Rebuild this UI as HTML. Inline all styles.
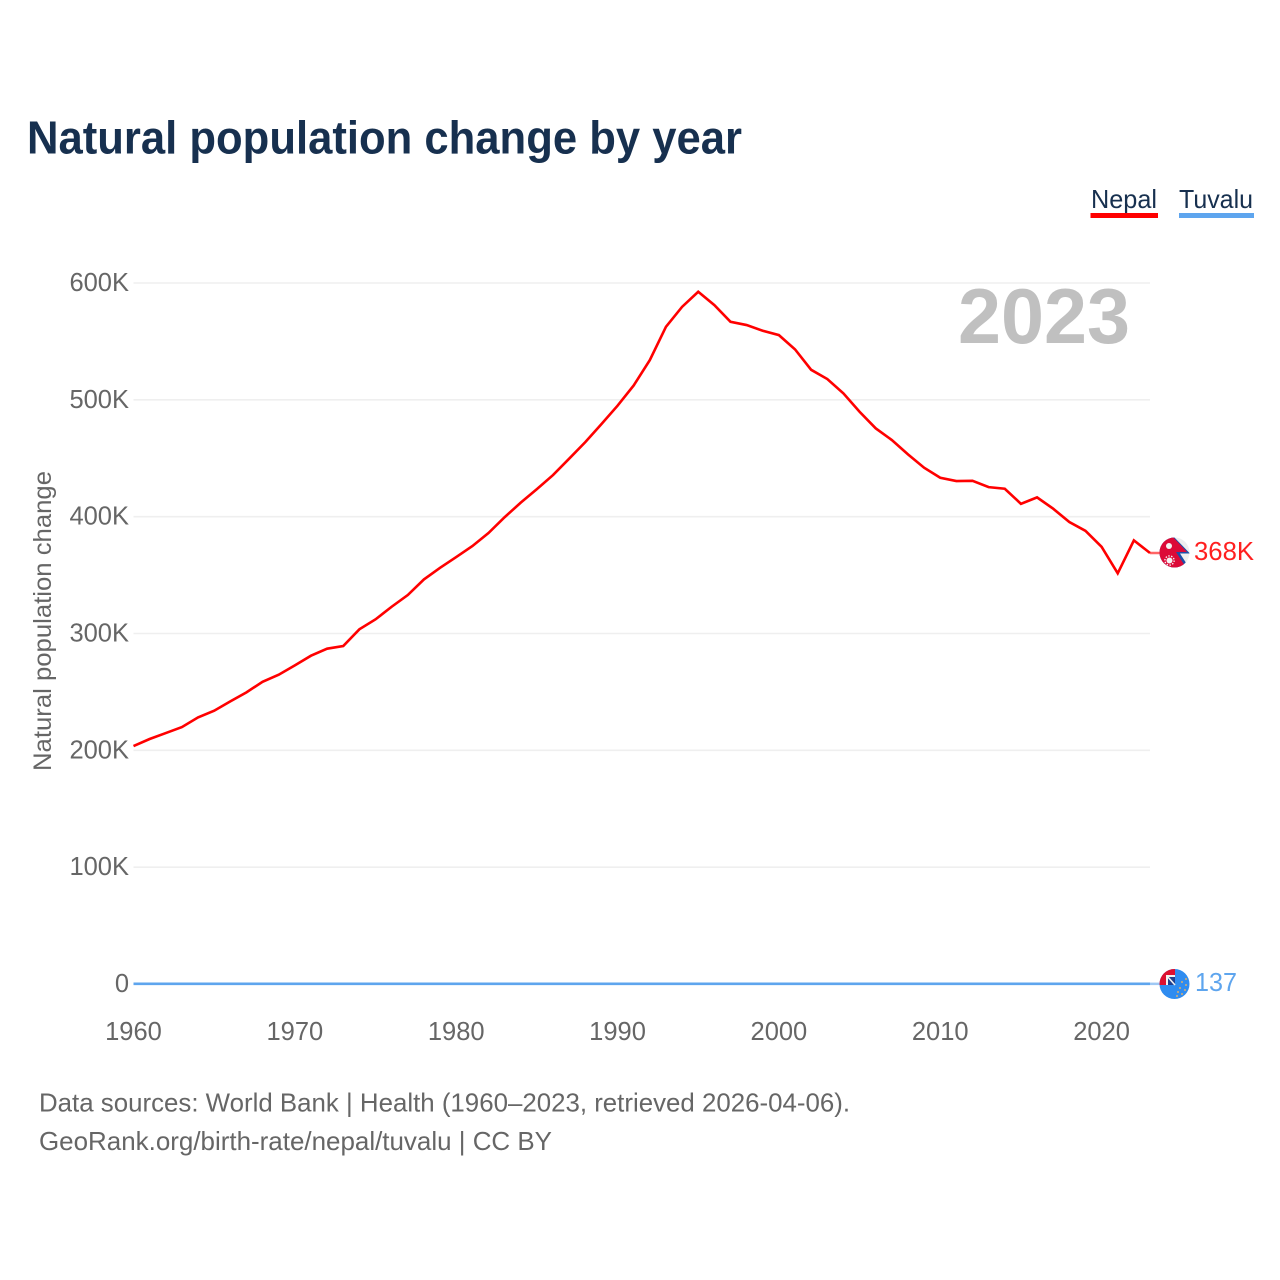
<!DOCTYPE html>
<html lang="en">
<head>
<meta charset="utf-8">
<title>Natural population change by year</title>
<style>
html,body{margin:0;padding:0;background:#fff;width:1280px;height:1280px;overflow:hidden}
svg{display:block}
text{font-family:"Liberation Sans",sans-serif}
</style>
</head>
<body>
<svg id="chart" width="1280" height="1280" viewBox="0 0 1280 1280" xmlns="http://www.w3.org/2000/svg">
  <defs>
    <clipPath id="nepal-clip"><circle cx="1174.5" cy="552.5" r="15"/></clipPath>
    <clipPath id="tuvalu-clip"><circle cx="1174.5" cy="984" r="15"/></clipPath>
  </defs>
  <rect width="1280" height="1280" fill="#fff"/>
  <text x="27" y="153.5" font-size="46" font-weight="700" fill="#17304f" textLength="715" lengthAdjust="spacingAndGlyphs">Natural population change by year</text>

  <g>
    <g>
      <text x="1091" y="208" font-size="26" fill="#17304f" textLength="66" lengthAdjust="spacingAndGlyphs">Nepal</text>
      <rect x="1090.5" y="213" width="67.5" height="5" fill="#ff0000"/>
    </g>
    <g>
      <text x="1179" y="208" font-size="26" fill="#17304f" textLength="74" lengthAdjust="spacingAndGlyphs">Tuvalu</text>
      <rect x="1179" y="213" width="75" height="5" fill="#5ea5ee"/>
    </g>
  </g>

  <g id="grid"></g>
  <g id="y-ticks"></g>
  <g id="x-ticks"></g>
  <text transform="translate(51,621) rotate(-90)" text-anchor="middle" font-size="25" fill="#666" textLength="300" lengthAdjust="spacingAndGlyphs">Natural population change</text>

  <text x="958" y="343" font-size="78" font-weight="700" fill="#c0c0c0" textLength="172" lengthAdjust="spacingAndGlyphs">2023</text>

  <g id="series"></g>

  <g clip-path="url(#nepal-clip)">
    <rect x="1159" y="537" width="31" height="32" fill="#eeeeee"/>
    <polygon points="1159,536 1173,536 1190,553.5 1180,553.5 1190,569 1159,569" fill="#1d4fa8"/>
    <polygon points="1159,536 1172,536 1187,552 1176,552 1187,569 1159,569" fill="#dc0a38"/>
    <circle cx="1169" cy="546" r="3" fill="#f4f4f4"/>
    <circle cx="1169.5" cy="560.5" r="3" fill="#f4f4f4"/>
    <circle cx="1169.5" cy="560.5" r="4.6" fill="none" stroke="#f4f4f4" stroke-width="1.4" stroke-dasharray="1.4 1.5"/>
  </g>

  <g clip-path="url(#tuvalu-clip)">
    <rect x="1159" y="968" width="31" height="32" fill="#2f8cf0"/>
    <rect x="1159" y="968" width="16" height="17" fill="#dd1030"/>
    <rect x="1166" y="975" width="9" height="10" fill="#f2f2f2"/>
    <polygon points="1168,977 1175,977 1175,985 1168,985" fill="#1f3f8f"/>
    <line x1="1167" y1="976" x2="1175" y2="985" stroke="#f2f2f2" stroke-width="1.6"/>
    <g fill="#b9a98a">
      <circle cx="1186" cy="979" r="1.1"/><circle cx="1182" cy="982" r="1.1"/><circle cx="1186" cy="985" r="1.1"/>
      <circle cx="1180" cy="988" r="1.1"/><circle cx="1185" cy="990" r="1.1"/><circle cx="1178" cy="992" r="1.1"/>
      <circle cx="1182" cy="994" r="1.1"/><circle cx="1177" cy="996" r="1.1"/>
    </g>
  </g>

  <text id="label-nepal" x="1194" y="560" font-size="25.5" fill="#ff2020" textLength="60" lengthAdjust="spacingAndGlyphs"></text>
  <text id="label-tuvalu" x="1195" y="991" font-size="25.5" fill="#5ea5ee" textLength="42" lengthAdjust="spacingAndGlyphs"></text>

  <text x="39" y="1111.5" font-size="26" fill="#666" textLength="811" lengthAdjust="spacingAndGlyphs">Data sources: World Bank | Health (1960–2023, retrieved 2026-04-06).</text>
  <text x="39" y="1150" font-size="26" fill="#666" textLength="513" lengthAdjust="spacingAndGlyphs">GeoRank.org/birth-rate/nepal/tuvalu | CC BY</text>
</svg>
<script>
const years = [1960,1961,1962,1963,1964,1965,1966,1967,1968,1969,1970,1971,1972,1973,1974,1975,1976,1977,1978,1979,1980,1981,1982,1983,1984,1985,1986,1987,1988,1989,1990,1991,1992,1993,1994,1995,1996,1997,1998,1999,2000,2001,2002,2003,2004,2005,2006,2007,2008,2009,2010,2011,2012,2013,2014,2015,2016,2017,2018,2019,2020,2021,2022,2023];
const nepalValues = [203700,209700,214800,219900,228200,233900,241900,249600,258700,264700,272700,281000,287000,289300,303600,312100,322900,332900,346300,356200,365400,374800,386000,399500,412000,423600,435600,449600,463800,479200,495000,512300,534000,562500,579600,592500,581100,566800,564000,559100,555400,543200,525700,517800,505500,489800,475600,465600,453300,441900,433300,430500,430700,425300,423900,411000,416500,406800,395400,387900,374200,351500,379700,368900];
const tuvaluValues = [150,150,150,140,130,130,120,120,120,130,130,130,120,120,140,150,150,150,150,160,160,160,160,160,160,160,170,170,170,170,170,170,170,170,170,170,170,170,170,160,160,160,160,150,150,150,150,140,140,140,140,140,140,140,140,140,140,140,140,140,140,140,130,137];
const yTickValues = [0,100000,200000,300000,400000,500000,600000];
const yTickLabels = ["0","100K","200K","300K","400K","500K","600K"];
const xTickValues = [1960,1970,1980,1990,2000,2010,2020];
const xTickLabels = ["1960","1970","1980","1990","2000","2010","2020"];
const nepalEndLabel = "368K";
const tuvaluEndLabel = "137";

const NS = "http://www.w3.org/2000/svg";
const plotLeft = 133.5, plotRight = 1150, y0 = 984, y600 = 283;
function xScale(year) { return plotLeft + (year - 1960) * (plotRight - plotLeft) / (2023 - 1960); }
function yScale(v) { return y0 - v * (y0 - y600) / 600000; }
function make(tag, attrs, parent) {
  const el = document.createElementNS(NS, tag);
  for (const k in attrs) el.setAttribute(k, attrs[k]);
  parent.appendChild(el);
  return el;
}

const gridGroup = document.getElementById("grid");
const yGroup = document.getElementById("y-ticks");
const xGroup = document.getElementById("x-ticks");
const seriesGroup = document.getElementById("series");

yTickValues.forEach(function (v, i) {
  const y = yScale(v);
  const line = make("line", {x1: plotLeft, x2: plotRight, y1: y, y2: y, stroke: "#efefef", "stroke-width": 1.6}, gridGroup);
  
  
  const t = make("text", {x: 129, y: y + 8, "text-anchor": "end", "font-size": 25.5, fill: "#666"}, yGroup);
  t.textContent = yTickLabels[i];
  
  
});

xTickValues.forEach(function (v, i) {
  const t = make("text", {x: xScale(v), y: 1040, "text-anchor": "middle", "font-size": 25.5, fill: "#666"}, xGroup);
  t.textContent = xTickLabels[i];
  
  
});

function pathFor(values) {
  return values.map(function (v, i) {
    return (i ? "L" : "M") + xScale(years[i]).toFixed(2) + "," + yScale(v).toFixed(2);
  }).join(" ");
}

function drawSeries(values, color) {
  const last = values[values.length - 1];
  const tail = make("line", {x1: plotRight, x2: 1160, y1: yScale(last), y2: yScale(last), stroke: color, "stroke-width": 2.5, opacity: 0.6}, seriesGroup);
  
  
  const p = make("path", {d: pathFor(values), fill: "none", stroke: color, "stroke-width": 2.6, "stroke-linejoin": "miter"}, seriesGroup);
  
  
}
drawSeries(tuvaluValues, "#5ea5ee");
drawSeries(nepalValues, "#ff0000");

document.getElementById("label-nepal").textContent = nepalEndLabel;
document.getElementById("label-tuvalu").textContent = tuvaluEndLabel;
</script>
</body>
</html>
